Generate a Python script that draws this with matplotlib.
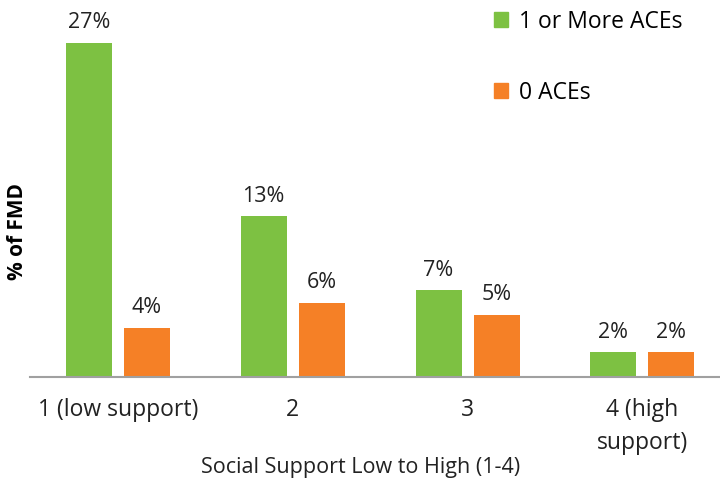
import matplotlib.pyplot as plt
from matplotlib.patches import Patch

# Share of FMD by social support level
categories = ['1 (low support)', '2', '3', '4 (high\nsupport)']
one_or_more_aces = [27, 13, 7, 2]
zero_aces = [4, 6, 5, 2]
series_names = ['1 or More ACEs', '0 ACEs']

green = '#7DC142'
orange = '#F58026'

plt.rcParams['font.family'] = ['Open Sans', 'DejaVu Sans']

fig = plt.figure(figsize=(7.2, 4.82), dpi=100)
ax = fig.add_axes([30 / 720, 105 / 482, 690 / 720, 371 / 482])

x = list(range(len(categories)))
width = 0.263
offset = 0.166
bars1 = ax.bar([i - offset for i in x], one_or_more_aces, width, color=green)
bars2 = ax.bar([i + offset for i in x], zero_aces, width, color=orange)

for bars, vals in ((bars1, one_or_more_aces), (bars2, zero_aces)):
    for b, v in zip(bars, vals):
        ax.annotate(f'{v}%', (b.get_x() + b.get_width() / 2, v),
                    xytext=(0, 7), textcoords='offset points',
                    ha='center', va='bottom', fontsize=15.5, color='#222222')

ax.set_xlim(-0.503, 3.444)
ax.set_ylim(0, 30)
ax.set_yticks([])
ax.set_xticks(x)
ax.set_xticklabels(categories, fontsize=16.5, color='#222222', linespacing=1.5)
ax.tick_params(axis='x', length=0, pad=15)
for s in ('top', 'right', 'left'):
    ax.spines[s].set_visible(False)
ax.spines['bottom'].set_color('#A0A0A0')
ax.spines['bottom'].set_linewidth(1.5)

fig.text(361 / 720, 1 - 467 / 482, 'Social Support Low to High (1-4)', fontsize=15.5,
         color='#222222', ha='center', va='center')
fig.text(18 / 720, 1 - 232 / 482, '% of FMD', rotation=90, fontsize=15,
         fontweight='bold', ha='center', va='center')

handles = [Patch(color=green), Patch(color=orange)]
ax.legend(handles, series_names, loc='upper left', bbox_to_anchor=(443 / 690, 1.045),
          frameon=False, fontsize=16.5, handlelength=0.62, handleheight=0.62,
          handletextpad=0.5, labelspacing=2.05)

fig.savefig('out.png', dpi=100)
